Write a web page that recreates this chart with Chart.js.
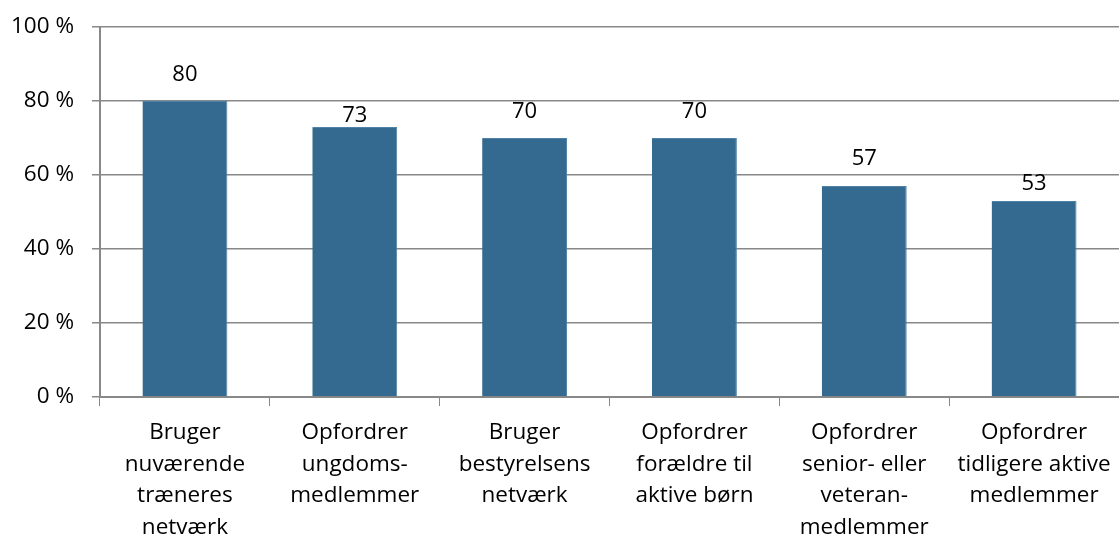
<!DOCTYPE html>
<html lang="da">
<head>
<meta charset="utf-8">
<title>Rekruttering af frivillige</title>
<script src="https://cdn.jsdelivr.net/npm/chart.js@4"></script>
<style>
  html, body { margin: 0; padding: 0; background: #fff; }
  #wrap { width: 1119px; height: 537px; position: relative; }
</style>
</head>
<body>
<div id="wrap"><canvas id="chart"></canvas></div>
<script>
// Category labels, one line per array entry
const categories = [
  ["Bruger", "nuværende", "træneres", "netværk"],
  ["Opfordrer", "ungdoms-", "medlemmer"],
  ["Bruger", "bestyrelsens", "netværk"],
  ["Opfordrer", "forældre til", "aktive børn"],
  ["Opfordrer", "senior- eller", "veteran-", "medlemmer"],
  ["Opfordrer", "tidligere aktive", "medlemmer"]
];

// Share of clubs (%)
const values = [80, 73, 70, 70, 57, 53];

// Y axis ticks (%)
const yTicks = [0, 20, 40, 60, 80, 100];

// How far each value label sits above its bar (px)
const labelLift = [26, 11, 26, 26, 27, 17];

const FONT = "'Open Sans', 'Noto Sans', sans-serif";
const GRID = '#888888';

// Writes each bar's value above it
const valueLabels = {
  id: 'valueLabels',
  afterDatasetsDraw(chart) {
    const ctx = chart.ctx;
    const meta = chart.getDatasetMeta(0);
    ctx.save();
    ctx.font = `22px ${FONT}`;
    ctx.fillStyle = '#000';
    ctx.textAlign = 'center';
    ctx.textBaseline = 'middle';
    meta.data.forEach((bar, i) => {
      const v = chart.data.datasets[0].data[i];
      ctx.fillText(String(v), bar.x, bar.y - labelLift[i]);
    });
    ctx.restore();
  }
};

new Chart(document.getElementById('chart'), {
  type: 'bar',
  data: {
    labels: categories,
    datasets: [{
      data: values,
      backgroundColor: '#346A90',
      borderColor: '#4F82A6',
      borderWidth: { top: 1, left: 0, right: 1, bottom: 0 },
      barPercentage: 0.5,
      categoryPercentage: 1.0
    }]
  },
  options: {
    responsive: true,
    maintainAspectRatio: false,
    animation: false,
    layout: { padding: { top: 27, right: 0, left: 0, bottom: 0 } },
    plugins: {
      legend: { display: false },
      tooltip: { enabled: false }
    },
    scales: {
      x: {
        grid: {
          display: true,
          drawOnChartArea: false,
          drawTicks: true,
          tickLength: 9,
          color: GRID,
          offset: true
        },
        border: { display: true, color: GRID, width: 2 },
        ticks: {
          color: '#000',
          font: { family: FONT, size: 22.5, lineHeight: 1.4 },
          padding: 11,
          maxRotation: 0,
          autoSkip: false
        },
        afterFit(scale) {
          scale.height = 140;
          scale.paddingLeft = 0;
          scale.paddingRight = 0;
        }
      },
      y: {
        min: 0,
        max: 100,
        afterBuildTicks(scale) {
          scale.ticks = yTicks.map(v => ({ value: v }));
        },
        grid: {
          color: GRID,
          lineWidth: 1.5,
          drawTicks: true,
          tickLength: 8
        },
        border: { display: true, color: GRID, width: 2 },
        ticks: {
          color: '#000',
          font: { family: FONT, size: 22.5 },
          padding: 18,
          callback: v => v + ' %'
        },
        afterFit(scale) {
          scale.width = 100;
          scale.paddingTop = 0;
          scale.paddingBottom = 0;
        }
      }
    }
  },
  plugins: [valueLabels]
});
</script>
</body>
</html>
